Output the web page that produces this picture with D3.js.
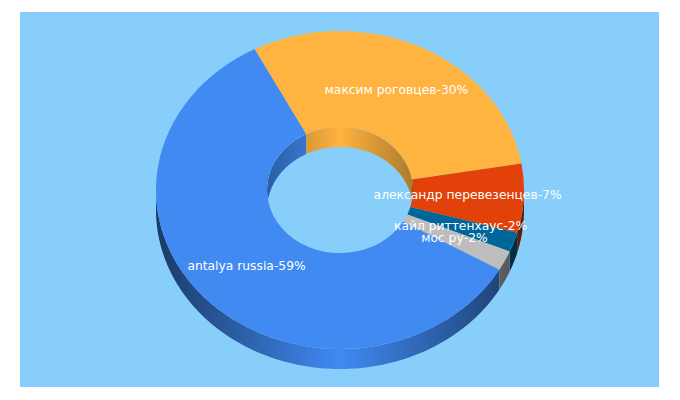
<!DOCTYPE html>
<html><head><meta charset="utf-8">
<script src="https://cdn.jsdelivr.net/npm/d3@7"></script>
<style>html,body{margin:0;padding:0;background:#fff}svg{display:block}text{font-family:"DejaVu Sans",sans-serif;font-size:12.3px;fill:#fff;text-anchor:middle}</style>
</head><body><script>
const categories = ["antalya russia","максим роговцев","александр перевезенцев","кайл риттенхаус","мос ру"];
const values = [59,30,7,2,2];
const colors = ["#408af2","#ffb340","#e2410a","#006699","#bdbdbd"];
(function(){
const W=680,H=400,cx=340,cy=190,rx=184,ratio=159/184,rIn=73,depth=20;
const svg=d3.select("body").append("svg").attr("width",W).attr("height",H);
svg.append("rect").attr("x",20).attr("y",12).attr("width",639).attr("height",375).attr("fill","#87cefa");
const rad=Math.PI/180;
const pie=d3.pie().sort(null).value(d=>d).startAngle(120*rad).endAngle(480*rad);
const arcs=pie(values);
const defs=svg.append("defs");
function grad(id,color,x0,x1,edge,knee){
  const g=defs.append("linearGradient").attr("id",id).attr("gradientUnits","userSpaceOnUse").attr("x1",x0).attr("x2",x1).attr("y1",0).attr("y2",0);
  const base=d3.rgb(color);
  const k=f=>d3.rgb(base.r*f,base.g*f,base.b*f).formatHex();
  [[0,edge],[.5-knee,(1+edge)/2],[.5,1],[.5+knee,(1+edge)/2],[1,edge]].forEach(([o,f])=>g.append("stop").attr("offset",o).attr("stop-color",k(f)));
}
values.forEach((v,i)=>{grad("o"+i,colors[i],cx-rx,cx+rx,.42,.25);grad("n"+i,colors[i],cx-rIn,cx+rIn,.68,.25);});
const px=(r,a)=>cx+r*Math.sin(a), py=(r,a,dy=0)=>cy-r*ratio*Math.cos(a)+dy;
function wall(r,a0,a1){
  const n=Math.max(2,Math.ceil((a1-a0)/rad));
  const as=d3.range(n+1).map(i=>a0+(a1-a0)*i/n);
  const line=d3.line();
  return line(as.map(a=>[px(r,a),py(r,a)]).concat(as.slice().reverse().map(a=>[px(r,a),py(r,a,depth)])))+"Z";
}
const outer=svg.append("g");
arcs.forEach(d=>{
  [0,360*rad].forEach(off=>{
    const a0=Math.max(d.startAngle-off,90*rad),a1=Math.min(d.endAngle-off,270*rad);
    if(a1>a0) outer.append("path").attr("d",wall(rx,a0,a1)).attr("fill",`url(#o${d.index})`);
  });
});
const clip=defs.append("clipPath").attr("id","hole");
clip.append("ellipse").attr("cx",cx).attr("cy",cy).attr("rx",rIn).attr("ry",rIn*ratio);
const inner=svg.append("g").attr("clip-path","url(#hole)");
arcs.forEach(d=>{
  [0,360*rad].forEach(off=>{
    const a0=Math.max(d.startAngle-off,-90*rad),a1=Math.min(d.endAngle-off,90*rad);
    if(a1>a0) inner.append("path").attr("d",wall(rIn,a0,a1)).attr("fill",`url(#n${d.index})`);
  });
});
const arc=d3.arc().innerRadius(rIn).outerRadius(rx);
const face=svg.append("g").attr("transform",`translate(${cx},${cy}) scale(1,${ratio})`);
face.selectAll("path").data(arcs).join("path").attr("d",arc).attr("fill",d=>colors[d.index]);
svg.append("g").selectAll("text").data(arcs).join("text")
  .attr("x",d=>cx+arc.centroid(d)[0]-0.7).attr("y",d=>cy+arc.centroid(d)[1]*ratio+3)
  .text(d=>`${categories[d.index]}-${d.value}%`);
})();
</script></body></html>
